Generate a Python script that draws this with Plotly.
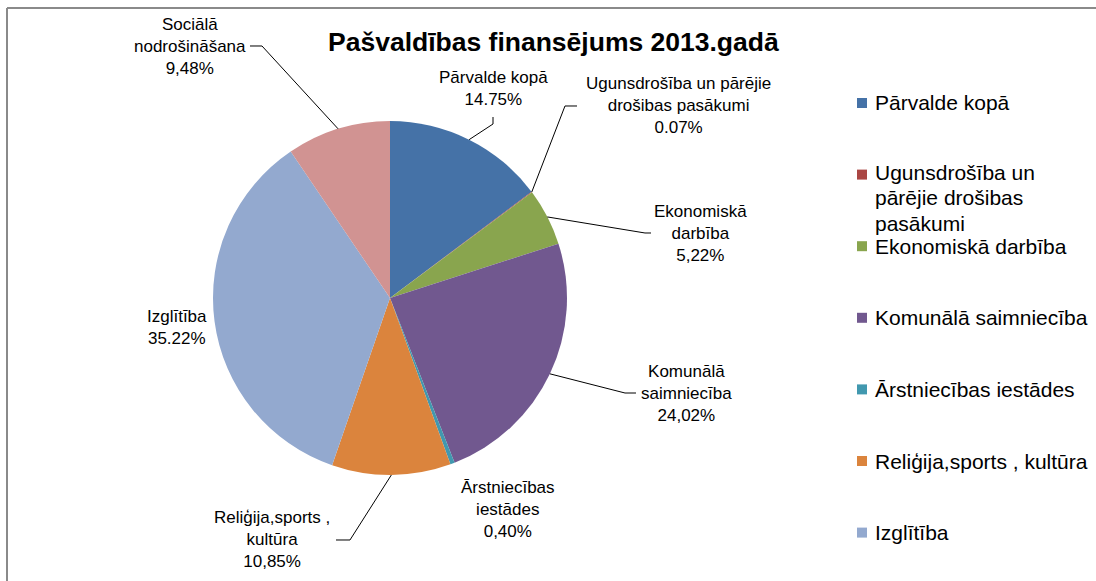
import math
import plotly.graph_objects as go

# ---------------- data ----------------
categories = [
    "Pārvalde kopā",
    "Ugunsdrošība un pārējie drošibas pasākumi",
    "Ekonomiskā darbība",
    "Komunālā saimniecība",
    "Ārstniecības iestādes",
    "Reliģija,sports , kultūra",
    "Izglītība",
    "Sociālā nodrošināšana",
]
shares = [14.75, 0.07, 5.22, 24.02, 0.40, 10.85, 35.22, 9.48]
decimal_marks = [".", ".", ",", ",", ",", ",", ".", ","]
label_lines = [
    ["Pārvalde kopā"],
    ["Ugunsdrošība un pārējie", "drošibas pasākumi"],
    ["Ekonomiskā", "darbība"],
    ["Komunālā", "saimniecība"],
    ["Ārstniecības", "iestādes"],
    ["Reliģija,sports ,", "kultūra"],
    ["Izglītība"],
    ["Sociālā", "nodrošināšana"],
]
legend_lines = [
    ["Pārvalde kopā"],
    ["Ugunsdrošība un", "pārējie drošibas", "pasākumi"],
    ["Ekonomiskā darbība"],
    ["Komunālā saimniecība"],
    ["Ārstniecības iestādes"],
    ["Reliģija,sports , kultūra"],
    ["Izglītība"],
    ["Sociālā nodrošināšana"],
]
title_text = "Pašvaldības finansējums 2013.gadā"

# ---------------- styling / layout ----------------
colors = ["#4572A7", "#AA4643", "#89A54E", "#71588F",
          "#4198AF", "#DB843D", "#93A9CF", "#D19392"]
W, H = 1096, 581
CX, CY, R = 390, 298, 177
label_pos = [(493, 88), (678, 105), (700, 233), (686, 393),
             (508, 509), (272, 539), (177, 327), (190, 46)]
# leader-line elbow and end points (pixels); None = no leader line
leader_bend = [(493, 124), (565, 106), (645, 233), (625, 393),
               None, (350, 540), None, (262, 46)]
leader_end = [(493, 117), (577, 106), (651, 233), (636, 393),
              None, (336, 540), None, (250, 46)]
FONT = "Liberation Sans, Arial, sans-serif"


def px(x, y):
    return x / W, 1 - y / H


fig = go.Figure()
fig.add_trace(go.Pie(
    labels=categories,
    values=shares,
    sort=False,
    direction="clockwise",
    rotation=0,
    marker=dict(colors=colors, line=dict(width=0)),
    textinfo="none",
    hoverinfo="label+percent",
    showlegend=False,
    domain=dict(x=[(CX - R) / W, (CX + R) / W],
                y=[1 - (CY + R) / H, 1 - (CY - R) / H]),
))

annotations = []
shapes = []

# data labels with leader lines
total = sum(shares)
cum = 0.0
for i, v in enumerate(shares):
    mid = (cum + v / 2) / total * 2 * math.pi
    cum += v
    ex = CX + R * math.sin(mid)
    ey = CY - R * math.cos(mid)
    lx, ly = label_pos[i]
    pct = f"{v:.2f}".replace(".", decimal_marks[i]) + "%"
    text = "<br>".join(label_lines[i] + [pct])
    x0, y0 = px(lx, ly)
    annotations.append(dict(
        x=x0, y=y0, xref="paper", yref="paper",
        xanchor="center", yanchor="middle", showarrow=False,
        text=text,
        font=dict(family=FONT, size=17, color="#000000"),
        align="center",
    ))
    if leader_bend[i] is not None:
        pts = [px(ex, ey), px(*leader_bend[i]), px(*leader_end[i])]
        path = "M " + " L ".join(f"{a:.5f},{b:.5f}" for a, b in pts)
        shapes.append(dict(type="path", xref="paper", yref="paper",
                           path=path, line=dict(color="#000000", width=1)))

# legend drawn manually (Excel style spacing)
LEG_X, LEG_Y0, LEG_STEP, LEG_FONT, LEG_LH = 857, 103, 71.6, 21, 25.3
for i, lines in enumerate(legend_lines):
    sy = LEG_Y0 + i * LEG_STEP
    if sy > H:
        continue
    x0, y0 = px(LEG_X, sy - 5)
    x1, y1 = px(LEG_X + 10, sy + 5)
    shapes.append(dict(type="rect", xref="paper", yref="paper",
                       x0=x0, x1=x1, y0=y1, y1=y0,
                       fillcolor=colors[i], line=dict(width=0)))
    first = sy - (2 if len(lines) > 1 else 0)
    for k, line in enumerate(lines):
        tx, ty = px(LEG_X + 16, first + k * LEG_LH)
        annotations.append(dict(
            x=tx, y=ty, xref="paper", yref="paper",
            xanchor="left", yanchor="middle", showarrow=False,
            text=line, align="left",
            font=dict(family=FONT, size=LEG_FONT, color="#000000"),
        ))

# title
tx, ty = px(553, 42)
annotations.append(dict(
    x=tx, y=ty, xref="paper", yref="paper", showarrow=False,
    xanchor="center", yanchor="middle", text=f"<b>{title_text}</b>",
    font=dict(family=FONT, size=26.5, color="#000000"),
))

# chart-area border (top and left edges visible)
bx0, by0 = px(7, 8)
shapes.append(dict(type="line", xref="paper", yref="paper",
                   x0=bx0, x1=1.01, y0=by0, y1=by0,
                   line=dict(color="#8a8a8a", width=2)))
shapes.append(dict(type="line", xref="paper", yref="paper",
                   x0=bx0, x1=bx0, y0=by0, y1=-0.01,
                   line=dict(color="#8a8a8a", width=2)))

fig.update_layout(
    width=W, height=H,
    margin=dict(l=0, r=0, t=0, b=0),
    paper_bgcolor="#ffffff", plot_bgcolor="#ffffff",
    annotations=annotations, shapes=shapes,
    showlegend=False,
)

fig.write_html(
    "out.html",
    config={"displayModeBar": False},
    post_script="document.body.style.margin='0';document.body.style.overflow='hidden';",
)
